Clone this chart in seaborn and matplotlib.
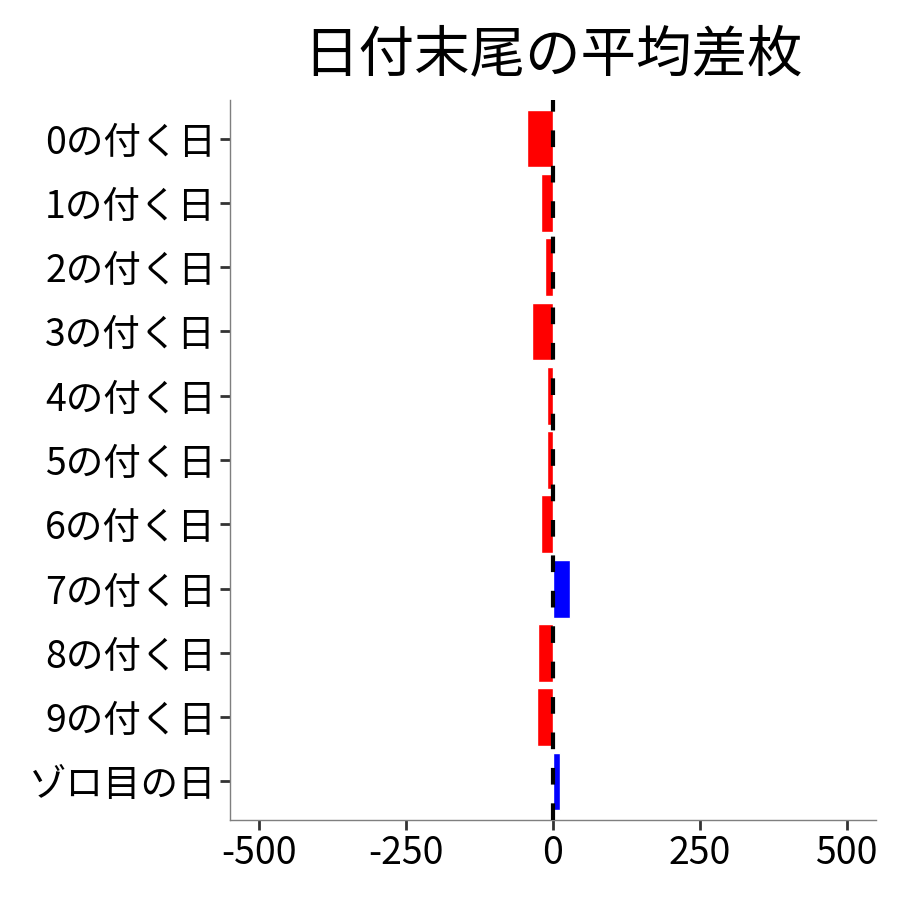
import matplotlib
matplotlib.use('Agg')
import matplotlib.pyplot as plt
import seaborn as sns
import pandas as pd
import numpy as np

# 日付末尾ごとの平均差枚
days = ['0の付く日', '1の付く日', '2の付く日', '3の付く日', '4の付く日',
        '5の付く日', '6の付く日', '7の付く日', '8の付く日', '9の付く日',
        'ゾロ目の日']
avg_diff = [-45, -20, -13, -35, -10, -11, -20, 29, -25, -27, 12]
x_ticks = [-500, -250, 0, 250, 500]

sns.set_theme(style='white')
plt.rcParams['font.family'] = ['Noto Sans CJK JP', 'DejaVu Sans']

df = pd.DataFrame({'day': days, 'diff': avg_diff})
df['sign'] = np.where(df['diff'] >= 0, 'plus', 'minus')

fig = plt.figure(figsize=(9, 9), dpi=100)
ax = fig.add_axes([230 / 900, 80 / 900, 646 / 900, 720 / 900])

sns.barplot(data=df, x='diff', y='day', hue='sign', order=days,
            palette={'plus': '#0000FF', 'minus': '#FF0000'},
            orient='h', dodge=False, width=0.9, legend=False,
            saturation=1, ax=ax)

# 0の位置に破線
ax.axvline(0, color='black', linestyle=(0, (4, 4.5)), linewidth=3, zorder=5)

ax.set_xlim(-550, 550)
ax.set_ylim(len(days) - 0.4, -0.6)
ax.set_xticks(x_ticks)
ax.set_xticklabels([str(v) for v in x_ticks])
ax.set_xlabel('')
ax.set_ylabel('')
ax.set_title('日付末尾の平均差枚', fontsize=40, pad=21, color='black')

for side in ['top', 'right']:
    ax.spines[side].set_visible(False)
for side in ['left', 'bottom']:
    ax.spines[side].set_color('#7f7f7f')
    ax.spines[side].set_linewidth(1.0)

ax.tick_params(axis='both', which='major', labelsize=27, length=7,
               width=2, color='#333333', labelcolor='black', left=True,
               bottom=True, pad=3)

fig.savefig('out.png', dpi=100)
